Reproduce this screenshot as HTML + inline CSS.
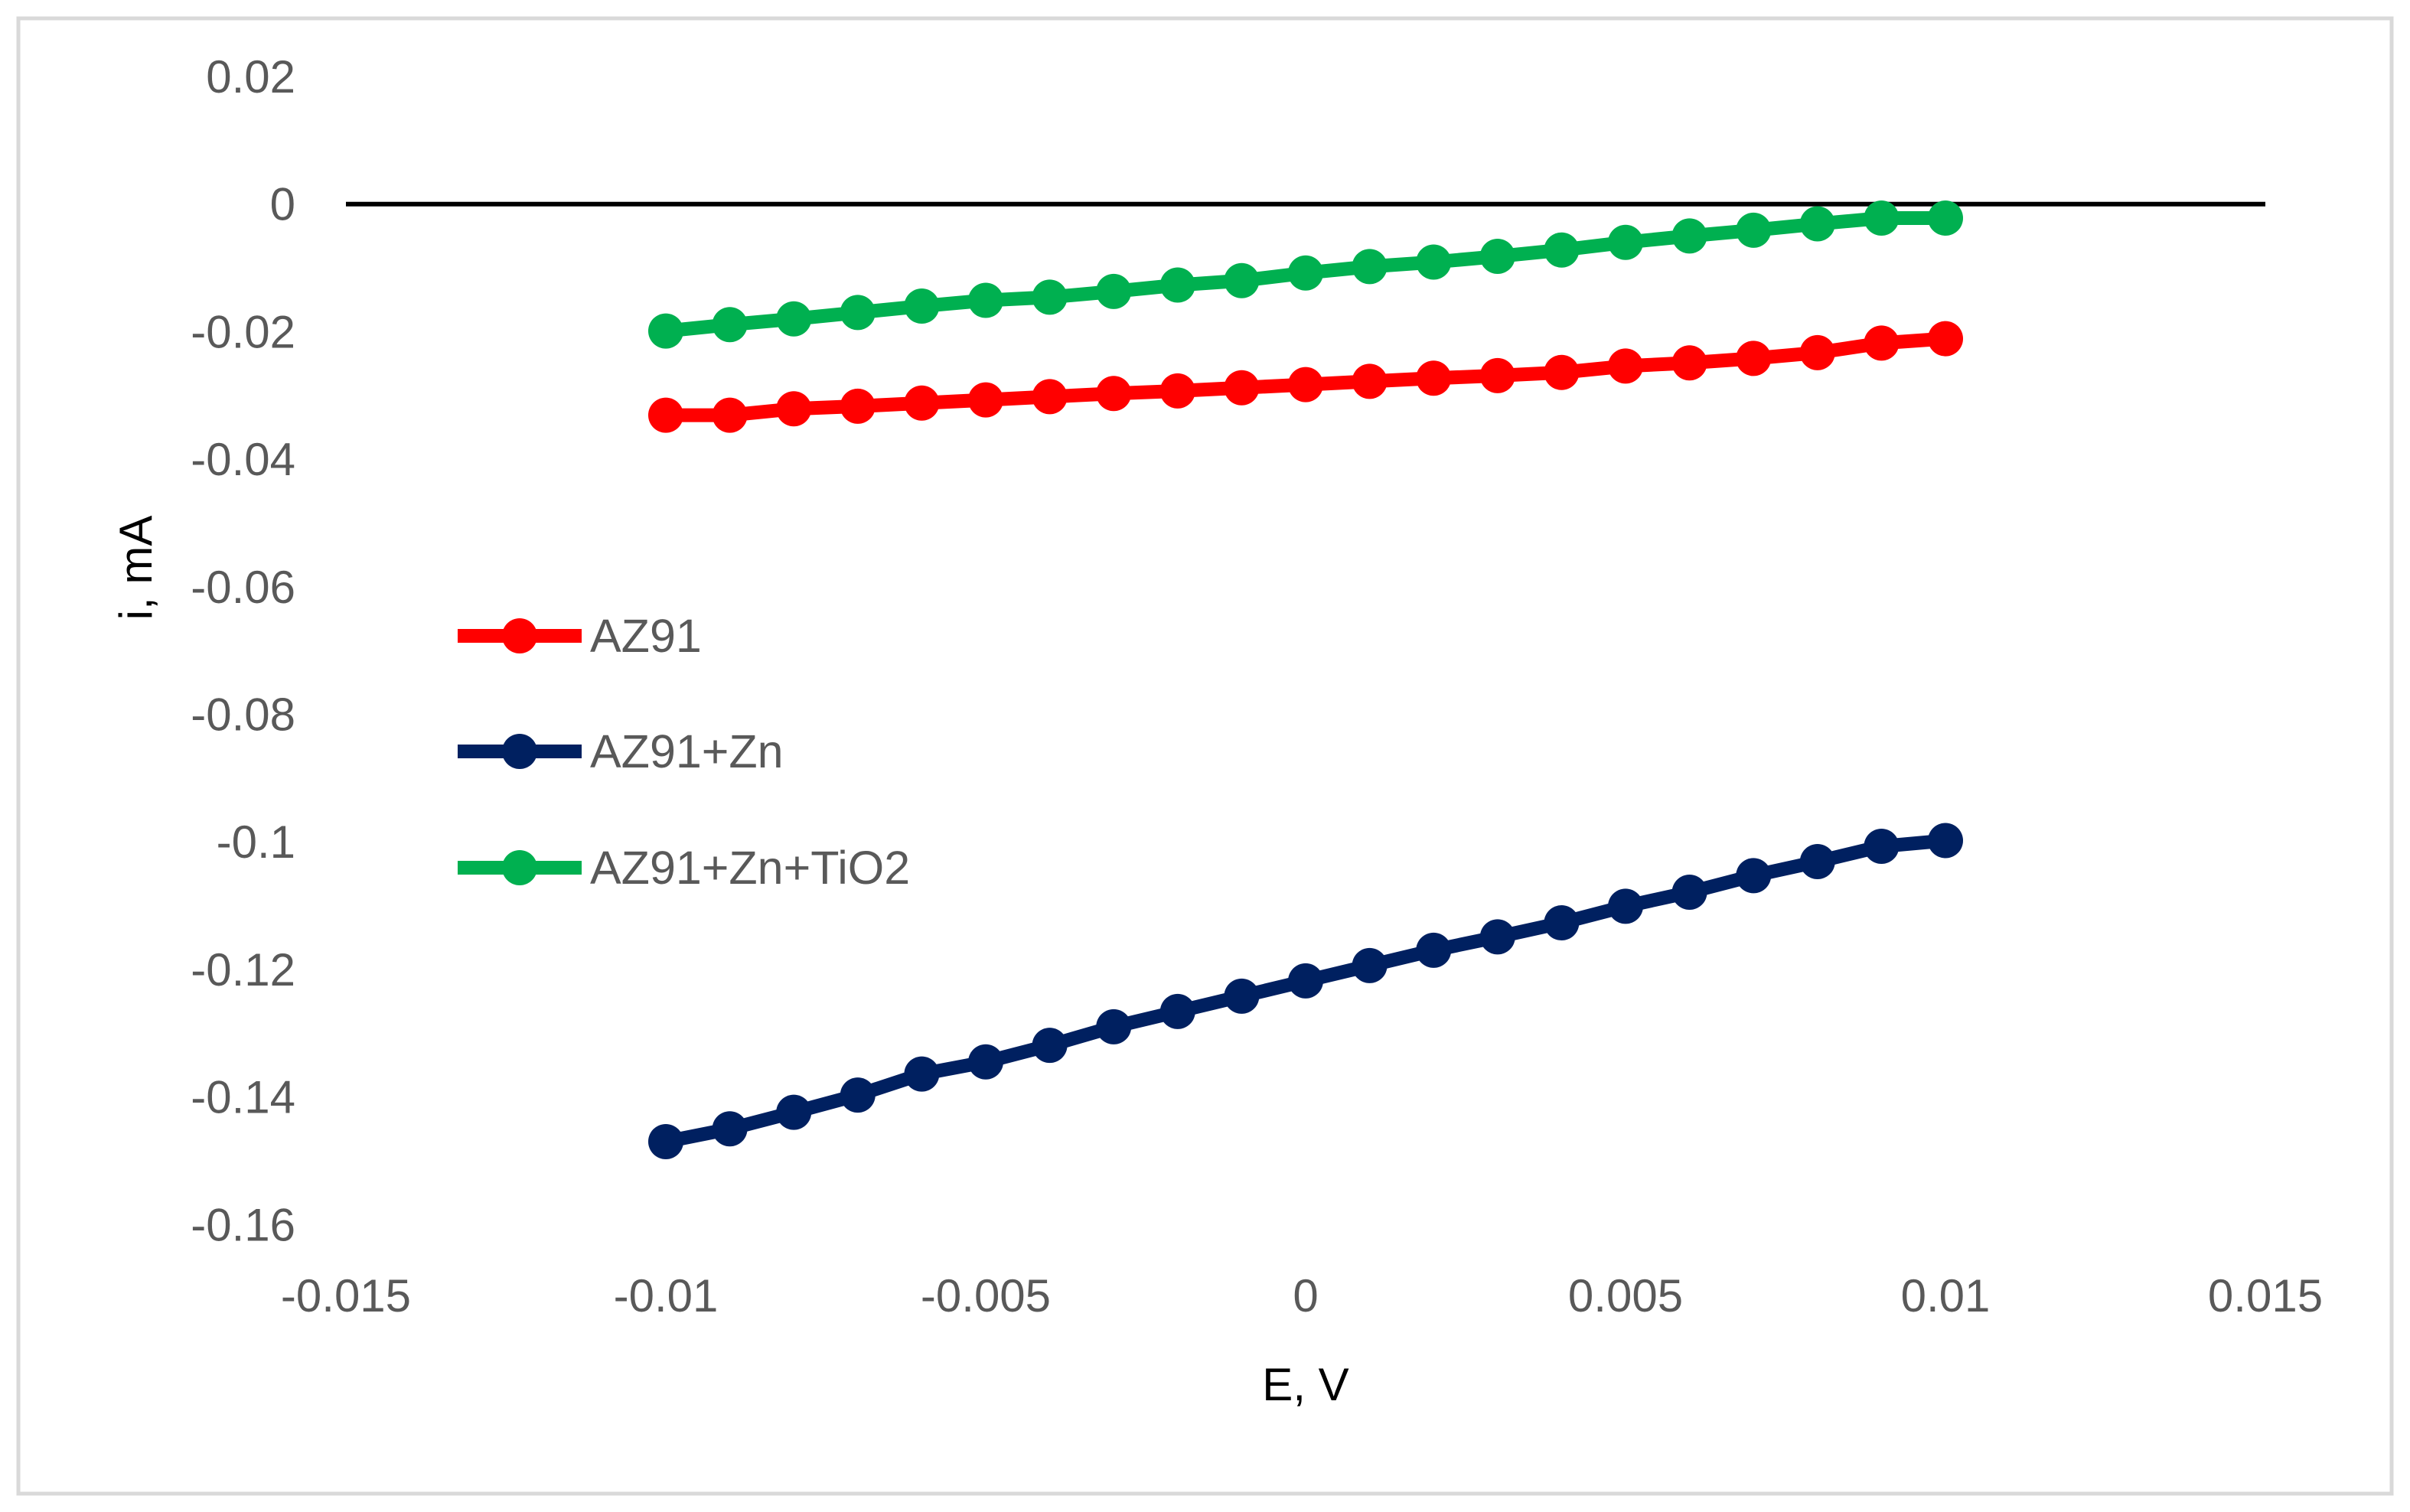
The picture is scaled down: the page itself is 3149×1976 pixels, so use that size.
<!DOCTYPE html>
<html><head><meta charset="utf-8"><style>
html,body{margin:0;padding:0;background:#fff;}
svg{display:block;font-family:"Liberation Sans",sans-serif;}
</style></head><body>
<svg id="chart" width="3149" height="1976" viewBox="0 0 3149 1976" xmlns="http://www.w3.org/2000/svg">
<rect x="24" y="24" width="3101" height="1928" fill="#fff" stroke="#d9d9d9" stroke-width="5"/>
<g id="yticks"></g>
<g id="xticks"></g>
<line id="zero" stroke="#000" stroke-width="6"/>
<g id="series"></g>
<text transform="translate(198,742) rotate(-90)" text-anchor="middle" font-size="60" fill="#000">i, mA</text>
<text x="1706" y="1830" text-anchor="middle" font-size="60" fill="#000">E, V</text>
<g id="legend"></g>
</svg>
<script>
const xValues=[-0.01,-0.009,-0.008,-0.007,-0.006,-0.005,-0.004,-0.003,-0.002,-0.001,0,0.001,0.002,0.003,0.004,0.005,0.006,0.007,0.008,0.009,0.01];
const az91=[-0.0331,-0.0331,-0.0321,-0.0317,-0.0312,-0.0307,-0.0302,-0.0297,-0.0293,-0.0288,-0.0283,-0.0278,-0.0273,-0.0269,-0.0264,-0.0254,-0.0249,-0.0242,-0.0233,-0.0218,-0.0211];
const az91Zn=[-0.147,-0.145,-0.1424,-0.1397,-0.1364,-0.1345,-0.1319,-0.129,-0.1266,-0.1242,-0.1218,-0.1194,-0.117,-0.1149,-0.1127,-0.1101,-0.1079,-0.1053,-0.1031,-0.1007,-0.0998];
const az91ZnTiO2=[-0.0199,-0.0189,-0.018,-0.017,-0.016,-0.0151,-0.0146,-0.0137,-0.0127,-0.012,-0.0108,-0.0098,-0.0091,-0.0082,-0.0072,-0.006,-0.005,-0.0041,-0.0031,-0.0022,-0.0022];
const yTicks=[0.02,0,-0.02,-0.04,-0.06,-0.08,-0.1,-0.12,-0.14,-0.16];
const yTickLabels=["0.02","0","-0.02","-0.04","-0.06","-0.08","-0.1","-0.12","-0.14","-0.16"];
const xTicks=[-0.015,-0.01,-0.005,0,0.005,0.01,0.015];
const xTickLabels=["-0.015","-0.01","-0.005","0","0.005","0.01","0.015"];
const seriesNames=["AZ91","AZ91+Zn","AZ91+Zn+TiO2"];

const NS="http://www.w3.org/2000/svg";
function X(v){return 452+(v+0.015)/0.03*(2960-452);}
function Y(v){return 266.7-(v/0.02)*166.7;}
function mk(tag,attrs,parent){const e=document.createElementNS(NS,tag);for(const k in attrs)e.setAttribute(k,attrs[k]);parent.appendChild(e);return e;}

const yg=document.getElementById('yticks');
yTicks.forEach((t,i)=>{const e=mk('text',{x:386,y:Y(t)+21,'text-anchor':'end','font-size':60,fill:'#595959'},yg);


e.textContent=yTickLabels[i];});
const xg=document.getElementById('xticks');
xTicks.forEach((t,i)=>{const e=mk('text',{x:X(t),y:1714,'text-anchor':'middle','font-size':60,fill:'#595959'},xg);


e.textContent=xTickLabels[i];});
const z=document.getElementById('zero');
z.setAttribute('x1',X(-0.015));z.setAttribute('x2',X(0.015));z.setAttribute('y1',Y(0));z.setAttribute('y2',Y(0));

const sg=document.getElementById('series');
const data=[az91,az91Zn,az91ZnTiO2];
const colors=["#ff0000","#002060","#00b050"];
const order=[1,0,2];
order.forEach(s=>{
  const g=mk('g',{},sg);
  
  
  const pts=xValues.map((x,i)=>X(x)+','+Y(data[s][i])).join(' ');
  const pl=mk('polyline',{points:pts,fill:'none',stroke:colors[s],'stroke-width':18,'stroke-linejoin':'round'},g);
  
  
  xValues.forEach((x,i)=>{const c=mk('circle',{cx:X(x),cy:Y(data[s][i]),r:23,fill:colors[s]},g);
  
  });
});

const lg=document.getElementById('legend');
const ly=[831,982,1134];
seriesNames.forEach((n,i)=>{
  const g=mk('g',{},lg);
  
  
  mk('line',{x1:598,x2:760,y1:ly[i],y2:ly[i],stroke:colors[i],'stroke-width':18},g);
  mk('circle',{cx:679,cy:ly[i],r:23,fill:colors[i]},g);
  const t=mk('text',{x:771,y:ly[i]+21,'font-size':61,fill:'#595959'},g);
  t.textContent=n;
});
</script>
</body></html>
